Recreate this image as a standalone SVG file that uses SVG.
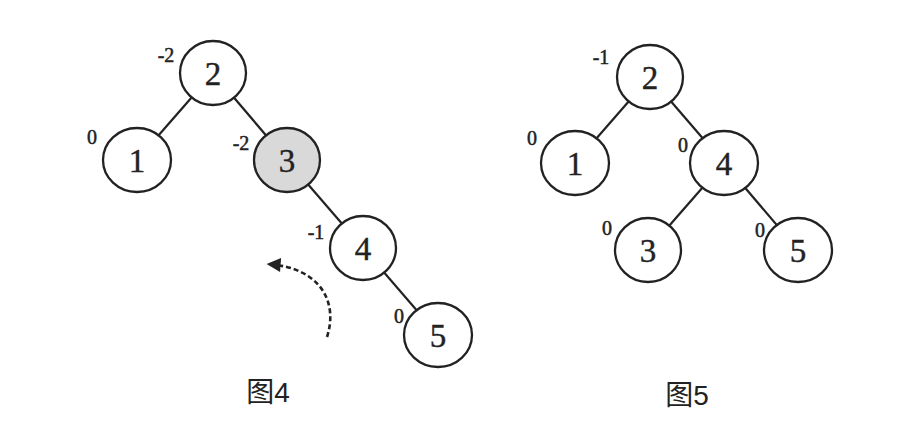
<svg xmlns="http://www.w3.org/2000/svg" width="916" height="426" viewBox="0 0 916 426">
<style>
.edge{stroke:#222;stroke-width:2.2;fill:none}
.node{fill:#fff;stroke:#222;stroke-width:2.3}
.hl{fill:#d9d9d9}
.num{font-family:"Liberation Serif",serif;font-size:33px;fill:#222;stroke:#222;stroke-width:0.4;text-anchor:middle;dominant-baseline:central}
.bf{font-family:"Liberation Serif",serif;font-size:20px;fill:#222;stroke:#222;stroke-width:0.5;text-anchor:middle;dominant-baseline:central}
.cap{font-family:"Liberation Sans","Noto Sans CJK SC",sans-serif;font-size:28px;fill:#222;text-anchor:middle}
.dash{stroke:#222;stroke-width:2.6;fill:none;stroke-dasharray:5 3}
</style>
<defs>
<marker id="ah" viewBox="0 0 10 10" refX="9" refY="5" markerUnits="userSpaceOnUse" markerWidth="17" markerHeight="14" orient="auto">
<path d="M0,0 L10,5 L0,10 z" fill="#222"/>
</marker>
</defs>
<rect width="916" height="426" fill="#fff"/>
<g id="connectors">
<line class="edge" x1="213" y1="73" x2="137" y2="160"/>
<line class="edge" x1="213" y1="73" x2="287" y2="160"/>
<line class="edge" x1="287" y1="160" x2="363" y2="248"/>
<line class="edge" x1="363" y1="248" x2="438" y2="335"/>
<path class="dash" d="M327,337 C338,303 322,268 268,264" marker-end="url(#ah)"/>
<line class="edge" x1="650" y1="77" x2="575" y2="163"/>
<line class="edge" x1="650" y1="77" x2="724" y2="163"/>
<line class="edge" x1="724" y1="163" x2="648" y2="250"/>
<line class="edge" x1="724" y1="163" x2="798" y2="250"/>
</g>
<g id="f4-n2"><ellipse class="node" cx="213" cy="73" rx="33" ry="32"/><text class="num" x="213" y="74">2</text><text class="bf" x="166" y="55">-2</text></g>
<g id="f4-n1"><ellipse class="node" cx="137" cy="160" rx="34" ry="32"/><text class="num" x="137" y="161">1</text><text class="bf" x="92" y="137">0</text></g>
<g id="f4-n3"><ellipse class="node hl" cx="287" cy="160" rx="33" ry="32"/><text class="num" x="287" y="161">3</text><text class="bf" x="241" y="143">-2</text></g>
<g id="f4-n4"><ellipse class="node" cx="363" cy="248" rx="33" ry="32"/><text class="num" x="363" y="249">4</text><text class="bf" x="316" y="232">-1</text></g>
<g id="f4-n5"><ellipse class="node" cx="438" cy="335" rx="34" ry="32"/><text class="num" x="438" y="336">5</text><text class="bf" x="399" y="316">0</text></g>
<g id="f5-n2"><ellipse class="node" cx="650" cy="77" rx="33" ry="32"/><text class="num" x="650" y="78">2</text><text class="bf" x="601" y="57">-1</text></g>
<g id="f5-n1"><ellipse class="node" cx="575" cy="163" rx="34" ry="32"/><text class="num" x="575" y="164">1</text><text class="bf" x="532" y="138">0</text></g>
<g id="f5-n4"><ellipse class="node" cx="724" cy="163" rx="34" ry="32"/><text class="num" x="724" y="164">4</text><text class="bf" x="683" y="145">0</text></g>
<g id="f5-n3"><ellipse class="node" cx="648" cy="250" rx="33" ry="32"/><text class="num" x="648" y="251">3</text><text class="bf" x="607" y="228">0</text></g>
<g id="f5-n5"><ellipse class="node" cx="798" cy="250" rx="34" ry="32"/><text class="num" x="798" y="251">5</text><text class="bf" x="760" y="230">0</text></g>
<g id="captions">
<text class="cap" x="268" y="402">图4</text>
<text class="cap" x="687" y="405">图5</text>
</g>
</svg>
